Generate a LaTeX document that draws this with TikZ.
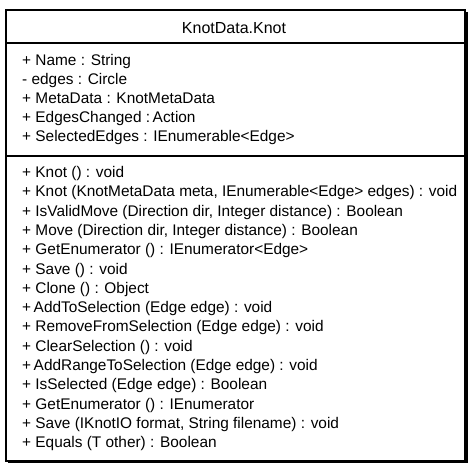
\documentclass[tikz,border=0pt]{standalone}
\usepackage{fontspec}
\setmainfont{Liberation Sans}
\begin{document}
\begin{tikzpicture}[x=1bp,y=-1bp,
  member/.style={anchor=base west,inner sep=0pt,font=\fontsize{15.4bp}{19bp}\selectfont},
  titletext/.style={anchor=base,inner sep=0pt,font=\fontsize{16bp}{19bp}\selectfont},
  frame/.style={draw=black,line width=1.6bp,fill=white},
  divider/.style={draw=black,line width=1.6bp}]
\useasboundingbox (0,0) rectangle (475,470);
% shadow and class box
\fill[black] (8,12) rectangle (467.5,463);
\path[frame] (6,10) rectangle (465,461);
\coordinate (d1l) at (6,43);
\coordinate (d1r) at (465,43);
\coordinate (d2l) at (6,156);
\coordinate (d2r) at (465,156);
\draw[divider] (d1l) -- (d1r);
\draw[divider] (d2l) -- (d2r);
% title
\node[titletext] (title) at (234,33.3) {KnotData.Knot};
% attributes
\node[member] (a1) at (22,65.7) {+ Name : String};
\node[member] (a2) at (22,84.7) {- edges : Circle};
\node[member] (a3) at (22,103.7) {+ MetaData : KnotMetaData};
\node[member] (a4) at (22,122.7) {+ EdgesChanged :\,Action};
\node[member] (a5) at (22,141.7) {+ SelectedEdges : IEnumerable<Edge>};
% methods
\node[member] (m1) at (22,177.5) {+ Knot () : void};
\node[member] (m2) at (22,196.8) {+ Knot (KnotMetaData meta, IEnumerable<Edge> edges) : void};
\node[member] (m3) at (22,216.1) {+ IsValidMove (Direction dir, Integer distance) : Boolean};
\node[member] (m4) at (22,235.4) {+ Move (Direction dir, Integer distance) : Boolean};
\node[member] (m5) at (22,254.7) {+ GetEnumerator () : IEnumerator<Edge>};
\node[member] (m6) at (22,274.0) {+ Save () : void};
\node[member] (m7) at (22,293.3) {+ Clone () : Object};
\node[member] (m8) at (22,312.6) {+\,AddToSelection (Edge edge) : void};
\node[member] (m9) at (22,331.9) {+ RemoveFromSelection (Edge edge) : void};
\node[member] (m10) at (22,351.2) {+ ClearSelection () : void};
\node[member] (m11) at (22,370.5) {+\,AddRangeToSelection (Edge edge) : void};
\node[member] (m12) at (22,389.8) {+ IsSelected (Edge edge) : Boolean};
\node[member] (m13) at (22,409.1) {+ GetEnumerator () : IEnumerator};
\node[member] (m14) at (22,428.4) {+ Save (IKnotIO format, String filename) : void};
\node[member] (m15) at (22,447.7) {+ Equals (T other) : Boolean};
\end{tikzpicture}
\end{document}
